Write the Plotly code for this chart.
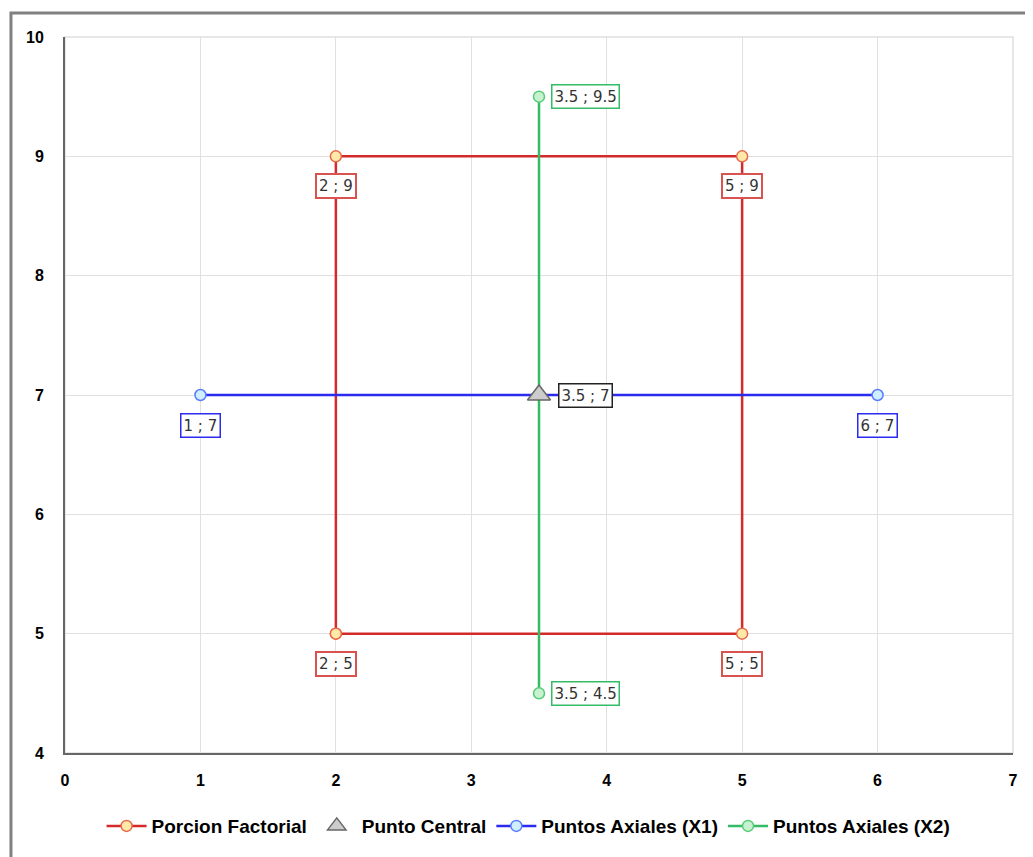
import plotly.graph_objects as go

# Data
factorial_x = [2, 2, 5, 5, 2]
factorial_y = [5, 9, 9, 5, 5]
central_x = [3.5]
central_y = [7]
axial1_x = [1, 6]
axial1_y = [7, 7]
axial2_x = [3.5, 3.5]
axial2_y = [4.5, 9.5]

x_ticks = [0, 1, 2, 3, 4, 5, 6, 7]
y_ticks = [4, 5, 6, 7, 8, 9, 10]

RED = "#d42a2a"
RED_BOX = "#d9534f"
BLUE = "#2b2bf0"
GREEN = "#33bb66"

fig = go.Figure()

fig.add_trace(go.Scatter(
    x=factorial_x, y=factorial_y, mode="lines+markers", name="Porcion Factorial",
    line=dict(color=RED, width=2.5),
    marker=dict(symbol="circle", size=11, color="#ffe9a8", line=dict(color="#e8684a", width=1.5)),
    legendrank=1,
))
fig.add_trace(go.Scatter(
    x=axial1_x, y=axial1_y, mode="lines+markers", name="Puntos Axiales (X1)",
    line=dict(color=BLUE, width=2.5),
    marker=dict(symbol="circle", size=11, color="#cfeeff", line=dict(color="#5b7bff", width=1.5)),
    legendrank=3,
))
fig.add_trace(go.Scatter(
    x=axial2_x, y=axial2_y, mode="lines+markers", name="Puntos Axiales (X2)",
    line=dict(color=GREEN, width=2.5),
    marker=dict(symbol="circle", size=11, color="#c8f2cf", line=dict(color="#55cc77", width=1.5)),
    legendrank=4,
))
fig.add_trace(go.Scatter(
    x=central_x, y=central_y, mode="markers", name="Punto Central",
    marker=dict(symbol="triangle-up", size=20, color="#cccccc", line=dict(color="#666666", width=1.5)),
    legendrank=2,
))

def lab(x, y):
    return f"{x:g} ; {y:g}"

annotations = []
box_font = dict(family="DejaVu Sans, Verdana, sans-serif", size=15, color="#333333")
# Factorial labels below points
for x, y in sorted(set(zip(factorial_x, factorial_y))):
    annotations.append(dict(x=x, y=y, text=lab(x, y), showarrow=False, yshift=-30,
                            bordercolor=RED_BOX, borderwidth=2, borderpad=2, bgcolor="white", font=box_font))
for x, y in zip(axial1_x, axial1_y):
    annotations.append(dict(x=x, y=y, text=lab(x, y), showarrow=False, yshift=-30,
                            bordercolor=BLUE, borderwidth=1.5, borderpad=2, bgcolor="white", font=box_font))
for x, y in zip(axial2_x, axial2_y):
    annotations.append(dict(x=x, y=y, text=lab(x, y), showarrow=False, xanchor="left", xshift=12,
                            bordercolor=GREEN, borderwidth=1.5, borderpad=2, bgcolor="white", font=box_font))
for x, y in zip(central_x, central_y):
    annotations.append(dict(x=x, y=y, text=lab(x, y), showarrow=False, xanchor="left", xshift=19,
                            bordercolor="#222222", borderwidth=1.5, borderpad=2, bgcolor="white", font=box_font))

tick_font = dict(family="Liberation Sans, Arial, sans-serif", size=16, color="#000000", weight="bold")

# page body has an 8px margin, so the figure is sized/offset to compensate
fig.update_layout(
    width=1025, height=849,
    margin=dict(l=57, r=20, t=29, b=102),
    paper_bgcolor="white", plot_bgcolor="white",
    annotations=annotations,
    showlegend=True,
    legend=dict(orientation="h", x=0.489, xanchor="center", y=-0.102, yanchor="middle",
                font=dict(family="Liberation Sans, Arial, sans-serif",
                          size=19, color="#000000", weight="bold"),
                traceorder="normal", itemwidth=40),
    xaxis=dict(range=[0, 7], tickvals=x_ticks, showgrid=True, gridcolor="#e0e0e0", gridwidth=1,
               zeroline=False, showline=True, linecolor="#666666", linewidth=2, mirror=False,
               tickfont=tick_font, ticks="", ticklabelstandoff=12),
    yaxis=dict(range=[4, 10], tickvals=y_ticks, showgrid=True, gridcolor="#e0e0e0", gridwidth=1,
               zeroline=False, showline=True, linecolor="#666666", linewidth=2, mirror=False,
               tickfont=tick_font, ticks="", ticklabelstandoff=16),
    shapes=[
        dict(type="rect", xref="paper", yref="paper", x0=0, x1=1, y0=0, y1=1,
             line=dict(color="#e0e0e0", width=1.5), layer="below"),
        dict(type="rect", xref="paper", yref="paper", x0=-0.057, x1=1.2, y0=-0.3, y1=1.0334,
             line=dict(color="#808080", width=3), layer="below"),
    ],
)

fig.write_html("out.html")
